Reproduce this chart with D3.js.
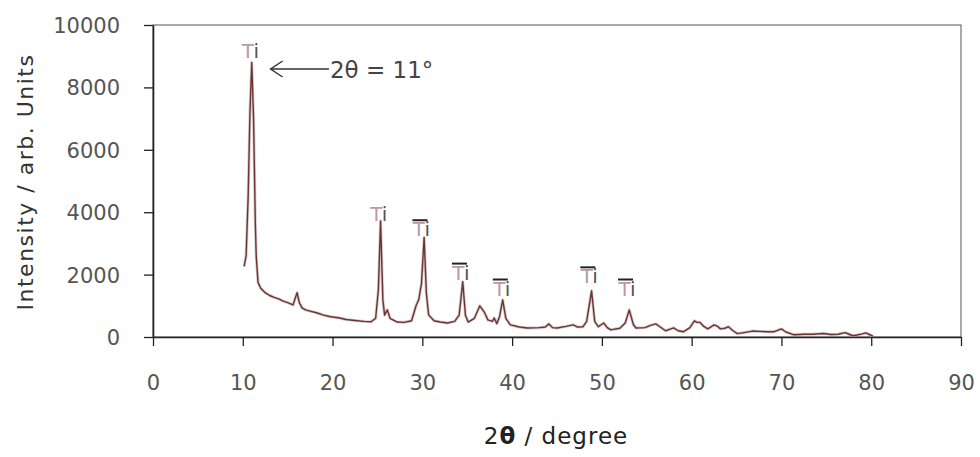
<!DOCTYPE html>
<html>
<head>
<meta charset="utf-8">
<script src="https://cdn.jsdelivr.net/npm/d3@7"></script>
<style>
  body { margin: 0; background: #fff; }
  text { font-family: "DejaVu Sans", Verdana, sans-serif; }
</style>
</head>
<body>
<svg id="chart" width="980" height="457"></svg>
<script>
// XRD pattern (2theta in degree, intensity in arb. units)
const twoTheta = [10.15, 10.37, 10.6, 10.8, 11.0, 11.2, 11.4, 11.5, 11.7, 12.0, 12.5, 13.0, 13.5, 14.0, 14.5, 15.0, 15.6, 15.85, 16.05, 16.3, 16.6, 17.0, 17.5, 18.3, 19.0, 19.8, 20.8, 21.5, 22.5, 23.5, 24.3, 24.8, 25.1, 25.35, 25.6, 25.8, 26.1, 26.4, 27.2, 28.0, 28.8, 29.3, 29.6, 29.9, 30.2, 30.45, 30.7, 31.3, 32.0, 32.8, 33.6, 34.1, 34.5, 34.8, 35.1, 35.8, 36.4, 36.9, 37.3, 37.8, 38.0, 38.3, 38.6, 38.95, 39.3, 39.8, 40.8, 41.7, 43.0, 43.7, 44.1, 44.5, 45.0, 46.0, 46.8, 47.3, 47.9, 48.3, 48.85, 49.2, 49.6, 50.2, 50.6, 51.0, 52.0, 52.6, 53.05, 53.5, 53.8, 54.8, 55.5, 56.0, 56.5, 57.1, 57.6, 58.0, 58.5, 59.1, 59.8, 60.3, 60.6, 60.9, 61.3, 61.8, 62.5, 62.9, 63.2, 63.7, 64.1, 64.6, 65.1, 66.0, 66.8, 67.6, 68.4, 69.2, 70.0, 70.5, 71.4, 72.5, 73.5, 74.7, 75.5, 76.3, 77.1, 77.6, 78.0, 79.0, 79.4, 79.8, 80.2];
const intensity = [2260, 2600, 4500, 7200, 8800, 7000, 3600, 2580, 1750, 1560, 1420, 1330, 1270, 1220, 1150, 1100, 1030, 1250, 1420, 1100, 935, 870, 830, 770, 700, 650, 610, 560, 530, 500, 490, 600, 1500, 3720, 1200, 700, 870, 600, 480, 470, 520, 1000, 1200, 1700, 3190, 1400, 710, 520, 480, 450, 500, 700, 1770, 700, 480, 600, 1000, 800, 550, 500, 610, 430, 650, 1190, 600, 390, 320, 290, 300, 320, 420, 300, 290, 340, 390, 320, 330, 500, 1480, 500, 330, 450, 300, 230, 280, 450, 870, 400, 290, 300, 380, 420, 320, 200, 250, 290, 200, 170, 300, 520, 470, 470, 350, 260, 390, 340, 260, 280, 330, 200, 110, 150, 190, 180, 170, 170, 260, 160, 70, 90, 90, 110, 80, 90, 140, 80, 40, 100, 130, 80, 30];

// "Ti" peak labels: anchor position (degree, intensity of baseline), and whether an overbar is drawn
const tiX = [10.85, 25.15, 29.9, 34.3, 38.85, 48.6, 52.8];
const tiY = [8950, 3720, 3230, 1840, 1330, 1720, 1330];
const tiBar = [false, false, true, true, true, true, true];

const xTicks = d3.range(0, 91, 10);
const yTicks = d3.range(0, 10001, 2000);

const svg = d3.select("#chart");
const margin = { left: 153, right: 19, top: 25, bottom: 120 };
const width = 980, height = 457;

const x = d3.scaleLinear().domain([0, 90]).range([margin.left, width - margin.right]);
const y = d3.scaleLinear().domain([0, 10000]).range([height - margin.bottom, margin.top]);

// plot area frame (top / right)
svg.append("rect")
    .attr("x", x(0)).attr("y", y(10000))
    .attr("width", x(90) - x(0)).attr("height", y(0) - y(10000))
    .attr("fill", "none").attr("stroke", "#555").attr("stroke-width", 1);

const xAxis = svg.append("g")
    .attr("transform", `translate(0,${y(0)})`)
    .call(d3.axisBottom(x).tickValues(xTicks).tickSize(9).tickPadding(29).tickSizeOuter(0));
const yAxis = svg.append("g")
    .attr("transform", `translate(${x(0)},0)`)
    .call(d3.axisLeft(y).tickValues(yTicks).tickFormat(d3.format("d")).tickSize(9).tickPadding(24).tickSizeOuter(0));

[xAxis, yAxis].forEach(g => {
    g.select(".domain").attr("stroke", "#222").attr("stroke-width", 1.6);
    g.selectAll(".tick line").attr("stroke", "#222").attr("stroke-width", 1.3);
    g.selectAll(".tick text")
        .attr("fill", "#555")
        .style("font-size", "21px")
        .style("font-family", "'DejaVu Sans', Verdana, sans-serif");
});
yAxis.selectAll(".tick text").attr("dy", "0.36em");

// data line, with a soft grey halo like the scanned original
const line = d3.line().x((d, i) => x(twoTheta[i])).y(d => y(d));
svg.append("path")
    .datum(intensity)
    .attr("d", line)
    .attr("fill", "none")
    .attr("stroke", "#b9a9a9")
    .attr("stroke-width", 3)
    .attr("stroke-linejoin", "round")
    .attr("opacity", 0.6);
svg.append("path")
    .datum(intensity)
    .attr("d", line)
    .attr("fill", "none")
    .attr("stroke", "#6e3434")
    .attr("stroke-width", 1.4)
    .attr("stroke-linejoin", "round");

// Ti labels
tiX.forEach((d, i) => {
    const t = svg.append("text")
        .attr("x", x(d))
        .attr("y", y(tiY[i]))
        .attr("text-anchor", "middle")
        .style("font-size", "20px");
    t.append("tspan").attr("fill", "#b89aa6").text("T");
    t.append("tspan").attr("fill", "#555").text("i");
    if (tiBar[i]) {
        svg.append("line")
            .attr("x1", x(d) - 9).attr("x2", x(d) + 6)
            .attr("y1", y(tiY[i]) - 16).attr("y2", y(tiY[i]) - 16)
            .attr("stroke", "#222").attr("stroke-width", 2);
    }
});

// annotation arrow at the main peak
const arrowY = 69;
svg.append("line")
    .attr("x1", x(13.1)).attr("x2", x(19.6))
    .attr("y1", arrowY).attr("y2", arrowY)
    .attr("stroke", "#333").attr("stroke-width", 1.5);
svg.append("path")
    .attr("d", `M${x(13.1) + 12},${arrowY - 8} L${x(13.1)},${arrowY} L${x(13.1) + 12},${arrowY + 8}`)
    .attr("fill", "none").attr("stroke", "#333").attr("stroke-width", 1.5);
svg.append("text")
    .attr("x", x(19.6) + 1).attr("y", arrowY + 9)
    .attr("fill", "#444")
    .style("font-size", "23px")
    .text("2θ = 11°");

// axis titles
const xt = svg.append("text")
    .attr("x", 556).attr("y", 444)
    .attr("text-anchor", "middle")
    .attr("fill", "#222")
    .style("font-size", "23px")
    .style("letter-spacing", "1px");
xt.append("tspan").text("2");
xt.append("tspan").style("font-weight", "bold").text("θ");
xt.append("tspan").text(" / degree");

svg.append("text")
    .attr("transform", `translate(33,182) rotate(-90)`)
    .attr("text-anchor", "middle")
    .attr("fill", "#333")
    .style("font-size", "22px")
    .style("letter-spacing", "1.5px")
    .text("Intensity / arb. Units");
</script>
</body>
</html>
